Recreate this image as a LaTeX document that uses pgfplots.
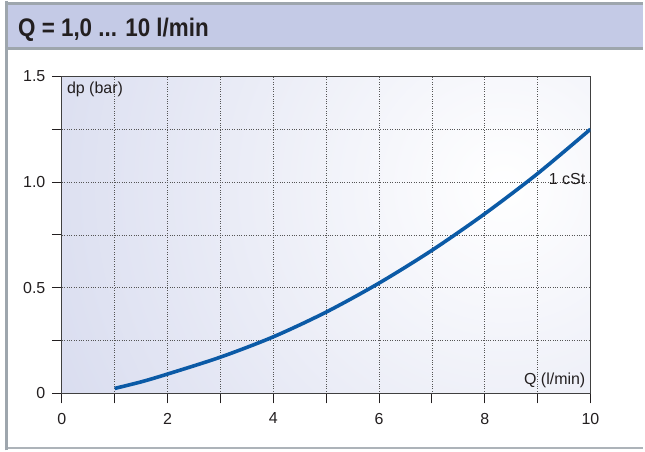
\documentclass[border=0pt]{standalone}
\usepackage{fontspec}
\setmainfont{Liberation Sans}
\newfontfamily\titlefont[FakeStretch=0.88]{Liberation Sans}
\usepackage{pgfplots}
\pgfplotsset{compat=1.18}
\definecolor{hdr}{HTML}{C4CAE6}
\definecolor{frm}{HTML}{9EA6AD}
\definecolor{bgout}{HTML}{C0C6E5}
\definecolor{curve}{HTML}{0B5AA6}
\definecolor{txt}{HTML}{231F20}
\definecolor{gridc}{HTML}{555555}
\begin{document}
\begin{tikzpicture}
\fill[white] (0pt,0pt) rectangle (645pt,450pt);
\fill[hdr] (6pt,403pt) rectangle (645pt,447pt);
\draw[frm, line width=3.3pt] (5pt,448.3pt) -- (645pt,448.3pt);
\draw[frm, line width=2.5pt] (5pt,402.75pt) -- (645pt,402.75pt);
\draw[frm!85, line width=2pt] (5pt,2pt) -- (645pt,2pt);
\draw[frm, line width=3pt] (6.5pt,0pt) -- (6.5pt,450pt);
\node[anchor=base west, font=\titlefont\bfseries\fontsize{25.5}{25.5}\selectfont, text=txt, inner sep=0pt] at (18pt,415pt) {Q = 1,0 ... 10 l/min};
\begin{scope}
\clip (62pt,57pt) rectangle (592pt,375pt);
\shade[overlay, inner color=white, outer color=bgout] (505pt,265pt) circle[radius=820pt];
\end{scope}
\begin{axis}[
  at={(62pt,57pt)}, anchor=south west,
  scale only axis, width=530pt, height=318pt,
  xmin=0, xmax=10, ymin=0, ymax=1.5,
  xtick={0,2,...,10}, minor xtick={1,3,...,9},
  xticklabels={0,2,4,6,8,10},
  ytick={0,0.5,1,1.5}, yticklabels={0,0.5,1.0,1.5},
  minor ytick={0.25,0.75,1.25},
  xtick pos=bottom, ytick pos=left,
  grid=both,
  major grid style={dotted, draw=gridc, line width=0.8pt},
  minor grid style={dotted, draw=gridc, line width=0.8pt},
  tick align=outside,
  major tick length=10pt, minor tick length=10pt,
  every tick/.style={draw=txt, line width=1pt},
  axis line style={draw=black!75, line width=1.2pt},
  ticklabel style={font=\fontsize{16}{16}\selectfont, text=txt},
  xticklabel style={yshift=-6pt},
  yticklabel style={xshift=-3pt},
  /pgf/number format/assume math mode=true,
]
\addplot[curve, line width=3.6pt, smooth] coordinates {
(1,0.024) (1.5,0.055) (2,0.092) (3,0.172) (4,0.268) (5,0.385) (6,0.522) (7,0.677) (8,0.85) (9,1.04) (10,1.25)};
\end{axis}
\node[anchor=base west, inner sep=0pt, text=txt, font=\fontsize{16}{16}\selectfont] at (67pt,357.5pt) {dp (bar)};
\node[anchor=base east, inner sep=0pt, text=txt, font=\fontsize{16}{16}\selectfont] at (587pt,66pt) {Q (l/min)};
\node[anchor=base east, inner sep=0pt, text=txt, font=\fontsize{16}{16}\selectfont] at (587pt,267pt) {1 cSt};
\end{tikzpicture}
\end{document}
